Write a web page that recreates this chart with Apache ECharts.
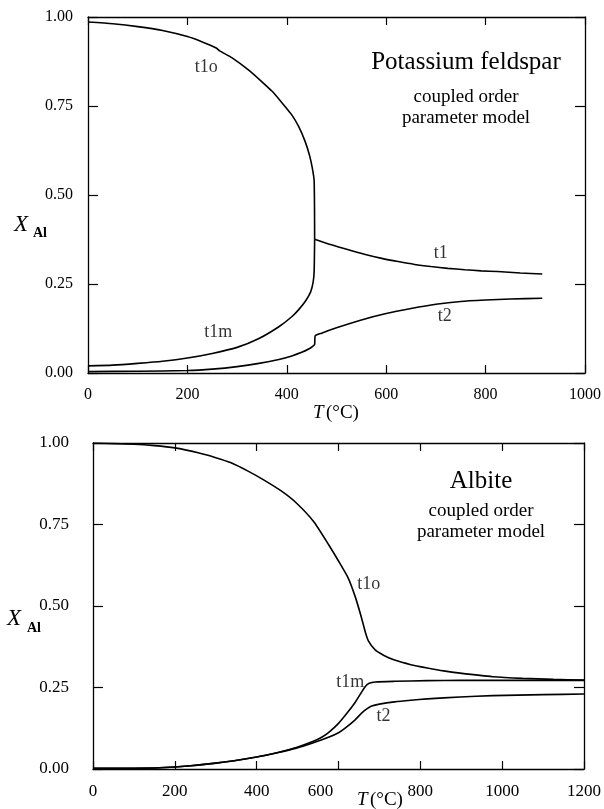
<!DOCTYPE html>
<html>
<head>
<meta charset="utf-8">
<script src="https://cdn.jsdelivr.net/npm/echarts@6/dist/echarts.min.js"></script>
<style>
html, body { margin: 0; padding: 0; background: #fff; }
#chart { width: 604px; height: 809px; }
</style>
</head>
<body>
<div id="chart"></div>
<script>
// ---- Potassium feldspar (top), [T (°C), X_Al]
const kT1o = [[0,0.986],[50,0.981],[100,0.973],[150,0.962],[200,0.945],[230,0.930],[258,0.913],[265,0.905],[290,0.885],[324,0.850],[350,0.818],[370,0.792],[391,0.758],[410,0.725],[424,0.692],[437,0.650],[446,0.610],[451,0.578],[455,0.540],[456,0.376]];
const kT1m = [[0,0.020],[50,0.022],[100,0.027],[150,0.033],[200,0.042],[250,0.055],[300,0.072],[344,0.097],[384,0.130],[410,0.158],[424,0.178],[438,0.203],[448,0.228],[453,0.255],[455,0.285],[456,0.376]];
const kT1 = [[456,0.376],[490,0.360],[524,0.346],[558,0.333],[591,0.322],[624,0.313],[657,0.305],[690,0.299],[724,0.294],[758,0.290],[791,0.287],[824,0.285],[870,0.281],[914,0.278]];
const kT2 = [[0,0.004],[100,0.005],[200,0.007],[250,0.011],[300,0.018],[344,0.027],[384,0.038],[410,0.048],[430,0.058],[445,0.068],[452,0.075],[456,0.080],[457,0.104],[470,0.112],[500,0.127],[550,0.149],[600,0.167],[650,0.181],[700,0.193],[750,0.201],[800,0.205],[850,0.208],[914,0.210]];

// ---- Albite (bottom)
const aT1o = [[0,1.000],[100,0.996],[150,0.992],[200,0.985],[257,0.970],[300,0.955],[336,0.940],[380,0.913],[417,0.887],[460,0.853],[497,0.816],[540,0.758],[576,0.688],[600,0.638],[624,0.585],[641,0.528],[656,0.465],[666,0.418],[673,0.393],[689,0.366],[710,0.349],[737,0.334],[777,0.320],[817,0.310],[857,0.301],[897,0.294],[977,0.283],[1050,0.278],[1125,0.275],[1200,0.273]];
const aT1m = [[0,0.002],[100,0.002],[200,0.006],[300,0.018],[400,0.037],[450,0.050],[497,0.066],[537,0.084],[560,0.098],[577,0.113],[600,0.140],[620,0.170],[641,0.205],[656,0.235],[666,0.254],[675,0.263],[690,0.267],[737,0.269],[817,0.271],[897,0.272],[1000,0.272],[1200,0.272]];
const aT2 = [[0,0.002],[100,0.002],[200,0.006],[300,0.018],[400,0.037],[450,0.050],[497,0.064],[537,0.080],[577,0.098],[600,0.111],[617,0.126],[640,0.150],[657,0.172],[670,0.185],[681,0.193],[700,0.199],[737,0.206],[777,0.211],[817,0.215],[897,0.221],[977,0.225],[1100,0.228],[1200,0.230]];

// curve labels, anchored in data coordinates
const kLabels = [{name:'t1o', value:[238,0.860]}, {name:'t1m', value:[262,0.115]}, {name:'t1', value:[710,0.337]}, {name:'t2', value:[718,0.160]}];
const aLabels = [{name:'t1o', value:[674,0.567]}, {name:'t1m', value:[629,0.267]}, {name:'t2', value:[710,0.163]}];

const FONT = '"Liberation Serif", "Times New Roman", serif';

function xAxes(gi, max, fs, shift) {
    const base = {
        gridIndex: gi, type: 'value', min: 0, max: max, interval: 200,
        axisLine: { show: true, onZero: false, lineStyle: { color: '#000', width: 1.3 } },
        axisTick: { show: true, inside: true, length: 8, lineStyle: { color: '#000', width: 1.2 } },
        splitLine: { show: false }
    };
    return [
        Object.assign({}, base, {
            position: 'bottom',
            axisLabel: {
                color: '#000', fontFamily: FONT, fontSize: fs, margin: 14,
                formatter: v => shift[v] ? '{s|' + v + '}' : String(v),
                rich: { s: { fontFamily: FONT, fontSize: fs, color: '#000', padding: [0, 36, 0, 0] } }
            }
        }),
        Object.assign({}, base, { position: 'top', axisLabel: { show: false } })
    ];
}

function yAxes(gi, fs, margin) {
    const base = {
        gridIndex: gi, type: 'value', min: 0, max: 1, interval: 0.25,
        axisLine: { show: true, onZero: false, lineStyle: { color: '#000', width: 1.3 } },
        axisTick: { show: true, inside: true, length: 10, lineStyle: { color: '#000', width: 1.2 } },
        splitLine: { show: false }
    };
    return [
        Object.assign({}, base, {
            position: 'left',
            axisLabel: { color: '#000', fontFamily: FONT, fontSize: fs, margin: margin, formatter: v => v.toFixed(2) }
        }),
        Object.assign({}, base, { position: 'right', axisLabel: { show: false } })
    ];
}

function curve(data, xi, yi) {
    return {
        type: 'line', data: data, xAxisIndex: xi, yAxisIndex: yi,
        showSymbol: false, smooth: 0.2, silent: true,
        lineStyle: { color: '#000', width: 1.6 }
    };
}

function tags(data, xi, yi) {
    return {
        type: 'scatter', data: data, xAxisIndex: xi, yAxisIndex: yi, symbolSize: 0, silent: true,
        label: { show: true, position: 'inside', formatter: '{b}', color: '#000', fontFamily: FONT, fontSize: 18 }
    };
}

function txt(x, y, text, size, align, style) {
    return {
        type: 'text', x: x, y: y, silent: true,
        style: {
            text: text, fill: '#000', font: (style || '') + ' ' + size + 'px ' + FONT,
            textAlign: align, align: align, textVerticalAlign: 'middle', verticalAlign: 'middle'
        }
    };
}

const chart = echarts.init(document.getElementById('chart'));
chart.setOption({
    animation: false,
    backgroundColor: '#fff',
    grid: [
        { left: 88, top: 17, width: 500, height: 356 },
        { left: 93, top: 443, width: 500, height: 326 }
    ],
    xAxis: xAxes(0, 1000, 16, {}).concat(xAxes(1, 1200, 17, { 600: true })),
    yAxis: yAxes(0, 16, 15).concat(yAxes(1, 17, 24)),
    series: [
        curve(kT1o, 0, 0), curve(kT1m, 0, 0), curve(kT1, 0, 0), curve(kT2, 0, 0),
        tags(kLabels, 0, 0),
        curve(aT1o, 2, 2), curve(aT1m, 2, 2), curve(aT2, 2, 2),
        tags(aLabels, 2, 2)
    ],
    graphic: [
        txt(466, 62, 'Potassium feldspar', 25, 'center'),
        txt(466, 97, 'coupled order', 19, 'center'),
        txt(466, 118, 'parameter model', 19, 'center'),
        txt(481, 481, 'Albite', 25, 'center'),
        txt(481, 511, 'coupled order', 19, 'center'),
        txt(481, 532, 'parameter model', 19, 'center'),
        txt(14, 225, 'X', 23, 'left', 'italic'),
        txt(33, 233, 'Al', 14, 'left', 'bold'),
        txt(7, 619, 'X', 23, 'left', 'italic'),
        txt(27, 628, 'Al', 14, 'left', 'bold'),
        txt(313, 413, 'T', 19, 'left', 'italic'),
        txt(326, 413, '(°C)', 19, 'left'),
        txt(357, 800, 'T', 19, 'left', 'italic'),
        txt(370, 800, '(°C)', 19, 'left')
    ]
});
</script>
</body>
</html>
